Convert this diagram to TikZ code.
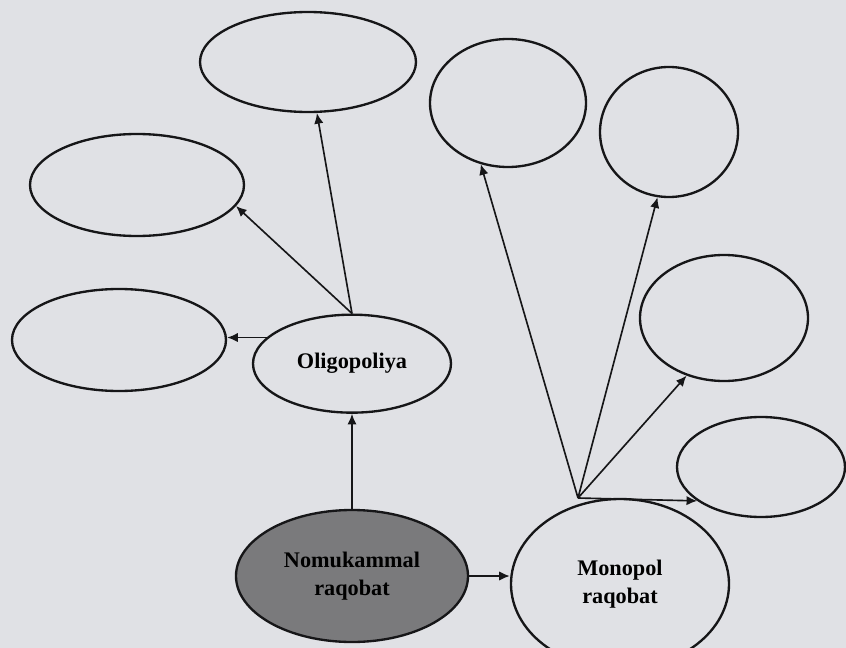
\documentclass[tikz,border=0pt]{standalone}
\usepackage{fontspec}
\setmainfont{Liberation Serif}
\usepackage{tikz}
\usetikzlibrary{arrows.meta,positioning,shapes.geometric}
\definecolor{papier}{RGB}{224,225,229}
\definecolor{grisN}{RGB}{122,122,124}
\definecolor{trait}{RGB}{22,22,24}
\tikzset{
  oval/.style n args={2}{ellipse, draw=trait, line width=2pt, inner sep=0pt,
               minimum width=#1*0.3mm, minimum height=#2*0.3mm,
               align=center, font=\fontsize{19}{23.5}\selectfont\bfseries},
  arr/.style={-{Latex[length=3.2mm,width=2.8mm]}, line width=1.4pt, draw=trait},
}
\begin{document}
\begin{tikzpicture}[x=0.3mm, y=-0.3mm]
  \clip (0,0) rectangle (846,648);
  \fill[papier] (0,0) rectangle (846,648);
  % markaz
  \node[oval={232}{132}, fill=grisN] (nk) at (352,576) {Nomukammal\\raqobat};
  \node[oval={198}{98}, above=28.5mm of nk] (ol) {Oligopoliya};
  \node[oval={218}{170}] (mp) at (620,584) {Monopol\\raqobat};
  % oligopoliya tomoni
  \node[oval={216}{100}] (o1) at (308,62) {};
  \node[oval={214}{102}] (o2) at (137,185) {};
  \node[oval={214}{102}] (o3) at (119,340) {};
  % monopol tomoni
  \node[oval={156}{128}] (m1) at (508,103) {};
  \node[oval={138}{130}] (m2) at (669,132) {};
  \node[oval={168}{126}] (m3) at (724,318) {};
  \node[oval={168}{100}] (m4) at (761,467) {};
  \coordinate (mo) at (578,498);
  \draw[arr] (nk) -- (ol);
  \draw[arr] (nk.east) -- (nk.east -| mp.west);
  \draw[arr] (ol.north) -- (o1);
  \draw[arr] (ol.north) -- (o2.-12);
  \draw[arr] (ol.163) -- (ol.163 -| o3.east);
  \draw[arr] (mo) -- (m1.246);
  \draw[arr] (mo) -- (m2.260);
  \draw[arr] (mo) -- (m3.237);
  \draw[arr] (mo) -- (m4.208);
\end{tikzpicture}
\end{document}
